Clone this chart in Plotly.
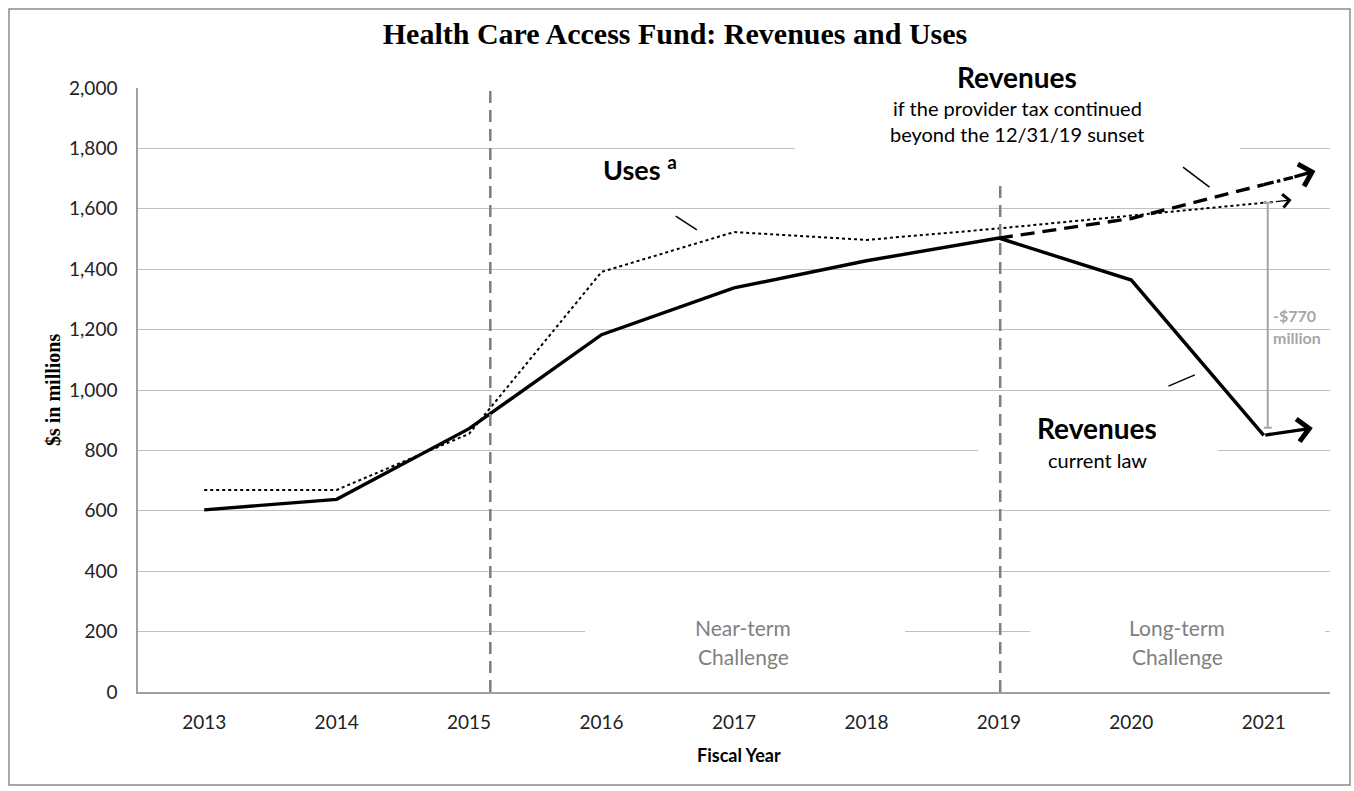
import plotly.graph_objects as go

# ---- data -------------------------------------------------------------
years = ["2013", "2014", "2015", "2016", "2017", "2018", "2019", "2020", "2021"]
revenues_current = [603, 638, 872, 1183, 1338, 1428, 1503, 1364, 850]
uses = [669, 669, 855, 1391, 1523, 1497, 1535, 1577, 1620]
revenues_continued_years = ["2019", "2020", "2021"]
revenues_continued = [1503, 1568, 1680]

# arrow tips past the last fiscal year (position on the category axis, value)
arrow_current = (8.37, 874)
arrow_continued = (8.39, 1725)
arrow_uses = (8.21, 1629)

# divider positions on the category axis
dividers = [2.16, 6.01]

y_ticks = list(range(0, 2001, 200))

pos = {y: i for i, y in enumerate(years)}
x_idx = [pos[y] for y in years]
x_cont = [pos[y] for y in revenues_continued_years]

# ---- layout helpers (pixel -> paper) ----------------------------------
W, H = 1354, 791
ML, MR, MT, MB = 138, 24, 88, 99
PW, PH = W - ML - MR, H - MT - MB


def px(x):
    return (x - ML) / PW


def py(y):
    return (H - MB - y) / PH


SANS = "Lato, 'Open Sans', sans-serif"
SERIF = "'Liberation Serif', 'Times New Roman', serif"
GREY_TXT = "#808080"

fig = go.Figure()

fig.add_trace(go.Scatter(
    x=x_idx, y=uses, mode="lines",
    line=dict(color="black", width=2, dash="dot"), hoverinfo="skip"))
fig.add_trace(go.Scatter(
    x=x_cont, y=revenues_continued, mode="lines",
    line=dict(color="black", width=3.4, dash="14px,8px"), hoverinfo="skip"))
fig.add_trace(go.Scatter(
    x=x_idx, y=revenues_current, mode="lines",
    line=dict(color="black", width=3.4), hoverinfo="skip"))

shapes = []
# white boxes behind the in-plot labels (cut through gridlines)
for x0, x1, y0, y1 in [(978, 1218, 405, 478), (585, 905, 605, 682), (1030, 1325, 605, 682)]:
    shapes.append(dict(type="rect", xref="paper", yref="paper",
                       x0=px(x0), x1=px(x1), y0=py(y1), y1=py(y0),
                       fillcolor="white", line=dict(width=0), layer="above"))
# period dividers
for d in dividers:
    shapes.append(dict(type="line", xref="x", yref="y", x0=d, x1=d, y0=0, y1=2000,
                       line=dict(color="#7f7f7f", width=2.5, dash="12px,7px"), layer="above"))
shapes.append(dict(type="rect", xref="paper", yref="paper",
                   x0=px(795), x1=px(1240), y0=py(183), y1=py(52),
                   fillcolor="white", line=dict(width=0), layer="above"))

# $770 million gap bracket
gap_x = 8.03
gap_lo, gap_hi = revenues_current[-1] + 25, uses[-1]
shapes.append(dict(type="line", xref="x", yref="y", x0=gap_x, x1=gap_x, y0=gap_lo, y1=gap_hi,
                   line=dict(color="#a6a6a6", width=2), layer="above"))
for v in (gap_lo, gap_hi):
    shapes.append(dict(type="line", xref="x", yref="y", x0=gap_x - 0.03, x1=gap_x + 0.03,
                       y0=v, y1=v, line=dict(color="#a6a6a6", width=2), layer="above"))

# callout leaders
leaders = [((7.39, 1738), (7.59, 1672)), ((3.56, 1576), (3.72, 1530)), ((7.28, 1013), (7.48, 1050))]
for (a, b) in leaders:
    shapes.append(dict(type="line", xref="x", yref="y", x0=a[0], y0=a[1], x1=b[0], y1=b[1],
                       line=dict(color="black", width=1.5), layer="above"))

# outer frame
shapes.append(dict(type="rect", xref="paper", yref="paper",
                   x0=px(9), x1=px(1350), y0=py(785), y1=py(9),
                   line=dict(color="#8c8c8c", width=1.5), fillcolor="rgba(0,0,0,0)", layer="above"))

annotations = []
# trend arrows past 2021
annotations.append(dict(x=arrow_current[0], y=arrow_current[1], xref="x", yref="y",
                        ax=8, ay=revenues_current[-1], axref="x", ayref="y",
                        showarrow=True, arrowhead=4, arrowsize=1.3, arrowwidth=3.4,
                        arrowcolor="black", text=""))
annotations.append(dict(x=arrow_continued[0], y=arrow_continued[1], xref="x", yref="y",
                        ax=8.22, ay=1704, axref="x", ayref="y",
                        showarrow=True, arrowhead=4, arrowsize=1.3, arrowwidth=3.4,
                        arrowcolor="black", text=""))
annotations.append(dict(x=arrow_uses[0], y=arrow_uses[1], xref="x", yref="y",
                        ax=8.08, ay=1623, axref="x", ayref="y",
                        showarrow=True, arrowhead=4, arrowsize=2.0, arrowwidth=1.3,
                        arrowcolor="black", text=""))
# dashed continuation towards the arrow tip
fig.add_trace(go.Scatter(
    x=[8, 8.22], y=[revenues_continued[-1], 1704], mode="lines",
    line=dict(color="black", width=3.4, dash="dashdot"), hoverinfo="skip"))
fig.add_trace(go.Scatter(
    x=[8, 8.08], y=[uses[-1], 1623], mode="lines",
    line=dict(color="black", width=2, dash="dot"), hoverinfo="skip"))


def txt(x, y, s, size, color="black", bold=False, family=SANS):
    annotations.append(dict(x=px(x), y=py(y), xref="paper", yref="paper", text=s,
                            showarrow=False, xanchor="center", yanchor="middle",
                            font=dict(family=family, size=size, color=color,
                                      weight="bold" if bold else "normal")))


txt(1017, 77, "Revenues", 28, bold=True)
txt(1017, 108, "if the provider tax continued", 20)
txt(1017, 134, "beyond the 12/31/19 sunset", 20)
txt(640, 168, "Uses <sup>a</sup>", 27, bold=True)
txt(1097, 428, "Revenues", 28, bold=True)
txt(1097, 460, "current law", 20)
txt(743, 627, "Near-term", 21, color=GREY_TXT)
txt(743, 656, "Challenge", 21, color=GREY_TXT)
txt(1177, 627, "Long-term", 21, color=GREY_TXT)
txt(1177, 656, "Challenge", 21, color=GREY_TXT)
txt(1294, 315, "-$770", 16, color="#a6a6a6", bold=True)
txt(1297, 337, "million", 16, color="#a6a6a6", bold=True)

# axis titles
txt(739, 755, "Fiscal Year", 18, bold=True)
annotations.append(dict(x=px(53), y=py(390), xref="paper", yref="paper", text="$s in millions",
                        showarrow=False, textangle=-90, xanchor="center", yanchor="middle",
                        font=dict(family=SERIF, size=20, color="black", weight="bold")))

fig.update_layout(
    width=W, height=H,
    margin=dict(l=ML, r=MR, t=MT, b=MB),
    paper_bgcolor="white", plot_bgcolor="white",
    showlegend=False,
    title=dict(text="<b>Health Care Access Fund: Revenues and Uses</b>",
               x=675 / W, xref="container", xanchor="center",
               y=1 - 33 / H, yanchor="middle",
               font=dict(family=SERIF, size=30, color="black")),
    xaxis=dict(range=[-0.5, 8.5], tickmode="array", tickvals=x_idx, ticktext=years,
               showgrid=False, zeroline=False, showline=True, linecolor="#a0a0a0", linewidth=1.5,
               ticks="", ticklabelstandoff=12,
               tickfont=dict(family=SANS, size=19, color="#222222")),
    yaxis=dict(range=[0, 2000], tickmode="array", tickvals=y_ticks,
               ticktext=[f"{v:,}" for v in y_ticks],
               showgrid=True, gridcolor="#bfbfbf", gridwidth=1.2, zeroline=False,
               showline=True, linecolor="#a0a0a0", linewidth=1.5,
               ticks="", ticklabelstandoff=15,
               tickfont=dict(family=SANS, size=19, color="#222222")),
    shapes=shapes,
    annotations=annotations,
)

fig.write_html("out.html")
